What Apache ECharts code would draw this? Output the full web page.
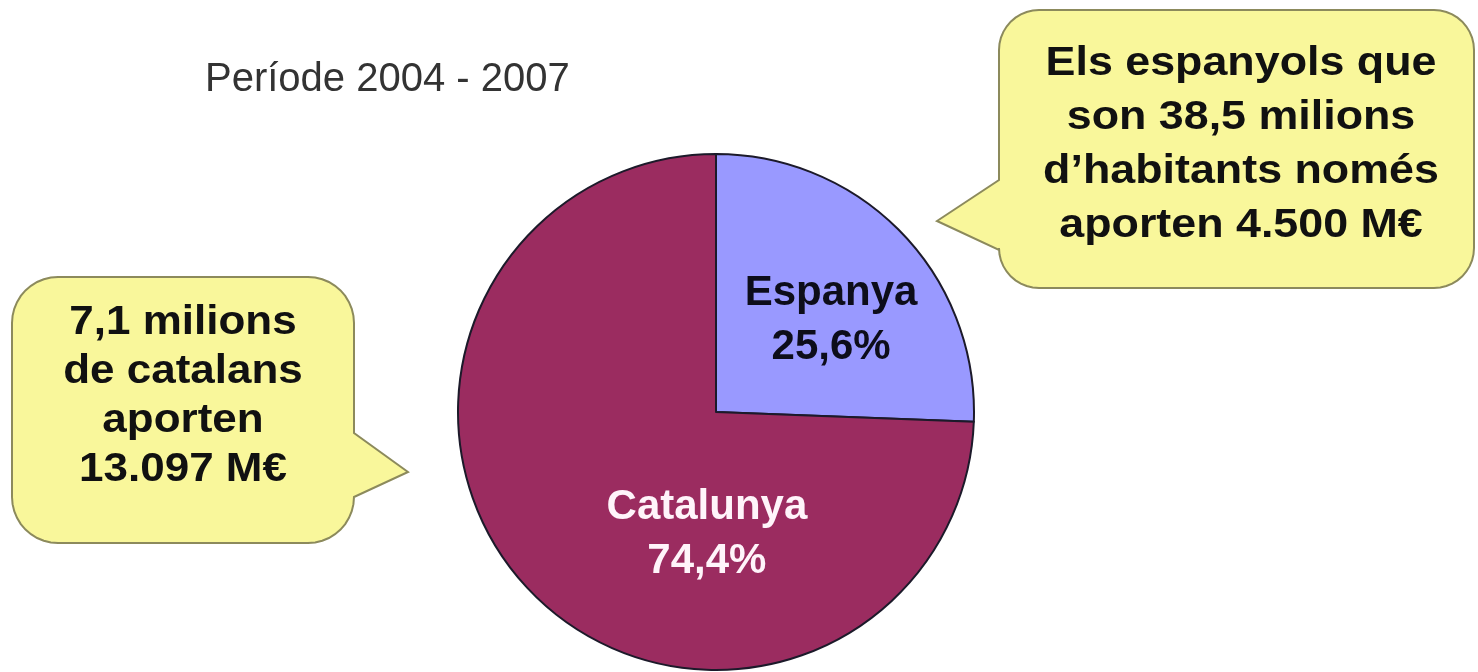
<!DOCTYPE html>
<html>
<head>
<meta charset="utf-8">
<script src="https://cdn.jsdelivr.net/npm/echarts@6/dist/echarts.min.js"></script>
<style>html,body{margin:0;padding:0;background:#fff}#c{width:1478px;height:672px}</style>
</head>
<body>
<div id="c"></div>
<script>
const categories = ['Espanya', 'Catalunya'];
const shares = [25.6, 74.4];
const titleText = 'Període 2004 - 2007';
const leftNote = ['7,1 milions', 'de catalans', 'aporten', '13.097 M€'];
const rightNote = ['Els espanyols que', 'son 38,5 milions', 'd\u2019habitants només', 'aporten 4.500 M€'];

const sliceColors = ['#9999FF', '#9B2C60'];
const labelColors = ['#0d0d1a', '#FFF4FA'];
const labelShift = [[20, 0], [86, 31]];

const chart = echarts.init(document.getElementById('c'));
const FONT = '"Liberation Sans", Arial, Helvetica, sans-serif';

// callout outline: rounded rectangle with a pointer inserted on one side
function arc(pts, cx, cy, r, a0, a1) {
  const n = 10;
  for (let i = 0; i <= n; i++) {
    const a = a0 + (a1 - a0) * i / n;
    pts.push([cx + r * Math.cos(a), cy + r * Math.sin(a)]);
  }
}
function bubble(x0, y0, x1, y1, r, side, ptr) {
  const P = Math.PI, pts = [];
  arc(pts, x0 + r, y0 + r, r, P, 1.5 * P);
  arc(pts, x1 - r, y0 + r, r, 1.5 * P, 2 * P);
  if (side === 'right') ptr.forEach(p => pts.push(p));
  arc(pts, x1 - r, y1 - r, r, 0, 0.5 * P);
  arc(pts, x0 + r, y1 - r, r, 0.5 * P, P);
  if (side === 'left') ptr.forEach(p => pts.push(p));
  return pts;
}

const bubbleStyle = { fill: '#F9F79B', stroke: '#8C8A5C', lineWidth: 2 };

chart.setOption({
  backgroundColor: '#ffffff',
  animation: false,
  title: {
    text: titleText,
    left: 200,
    top: 55,
    textStyle: { fontFamily: FONT, fontSize: 40, fontWeight: 'normal', color: '#333333' }
  },
  graphic: [
    {
      type: 'polygon', z: 1,
      shape: { points: bubble(12, 277, 354, 543, 46, 'right', [[354, 433], [408, 472], [354, 497]]) },
      style: bubbleStyle
    },
    {
      type: 'polygon', z: 1,
      shape: { points: bubble(999, 10, 1474, 288, 40, 'left', [[999, 250], [937, 221], [999, 180]]) },
      style: bubbleStyle
    },
    {
      type: 'text', x: 183, y: 396, scaleX: 1.1, z: 2,
      style: { text: leftNote.join('\n'), fontFamily: FONT, fontSize: 40, fontWeight: 'bold', lineHeight: 49,
               fill: '#111111', textAlign: 'center', textVerticalAlign: 'middle' }
    },
    {
      type: 'text', x: 1241, y: 145, scaleX: 1.12, z: 2,
      style: { text: rightNote.join('\n'), fontFamily: FONT, fontSize: 40, fontWeight: 'bold', lineHeight: 54,
               fill: '#111111', textAlign: 'center', textVerticalAlign: 'middle' }
    }
  ],
  series: [{
    type: 'pie',
    center: [716, 412],
    radius: 258,
    startAngle: 90,
    clockwise: true,
    silent: true,
    itemStyle: { borderColor: '#1c1a2a', borderWidth: 2 },
    label: {
      show: true,
      position: 'inside',
      fontFamily: FONT,
      fontSize: 42,
      fontWeight: 'bold',
      lineHeight: 54,
      formatter: p => p.name + '\n' + String(p.value).replace('.', ',') + '%'
    },
    labelLine: { show: false },
    labelLayout: p => ({ dx: labelShift[p.dataIndex][0], dy: labelShift[p.dataIndex][1] }),
    data: categories.map((n, i) => ({
      name: n,
      value: shares[i],
      itemStyle: { color: sliceColors[i] },
      label: { color: labelColors[i] }
    }))
  }]
});
</script>
</body>
</html>
